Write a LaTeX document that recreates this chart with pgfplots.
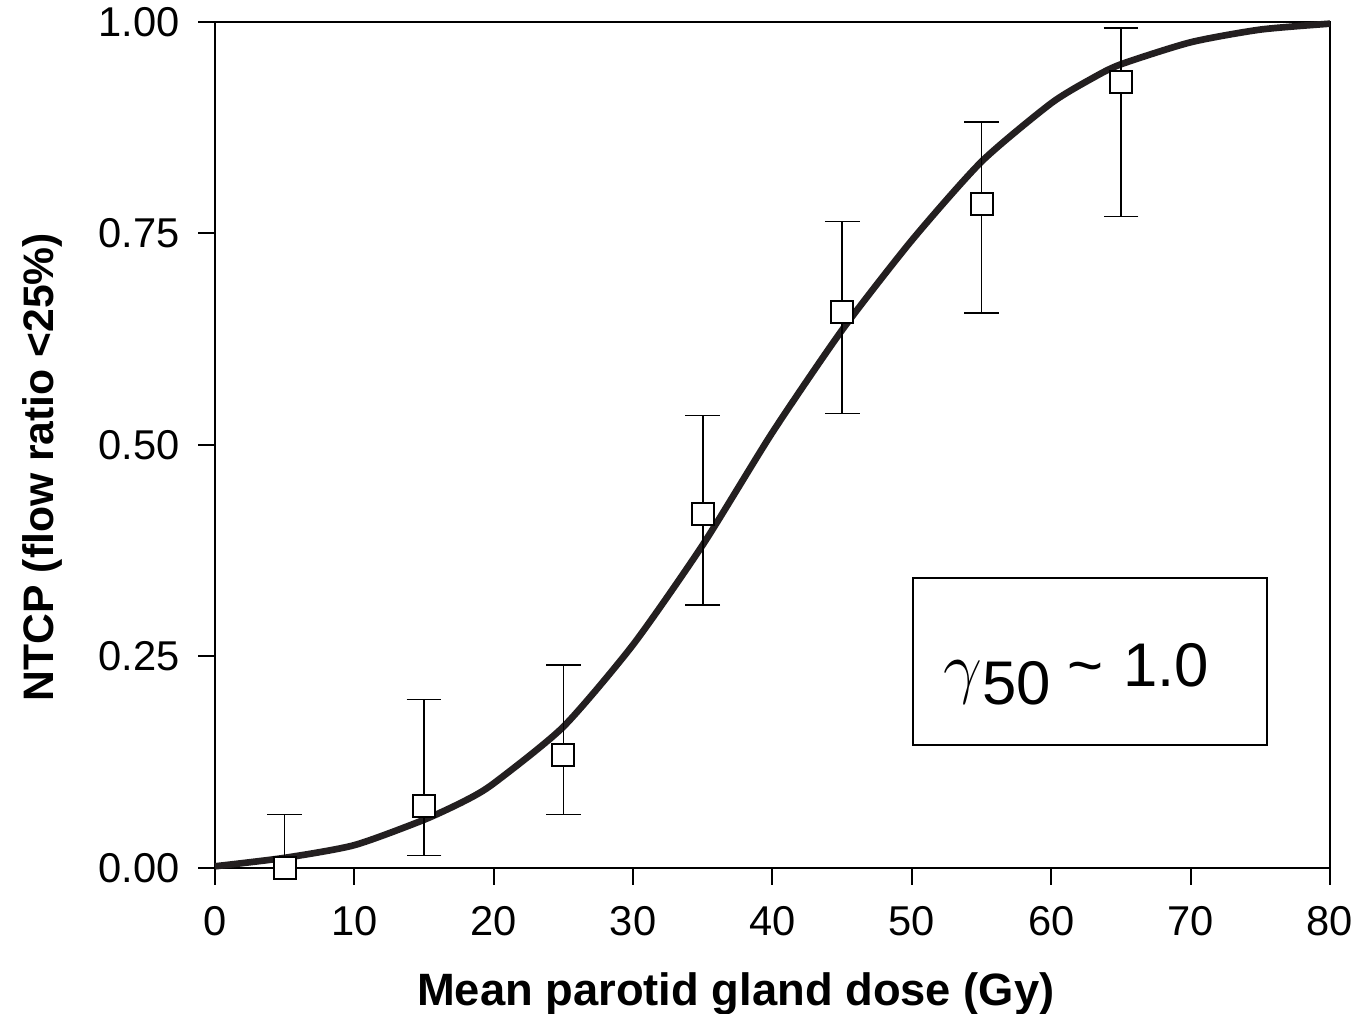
\documentclass[border=0pt]{standalone}
\usepackage{fontspec}
\setmainfont{Liberation Sans}
\usepackage{pgfplots}
\pgfplotsset{compat=1.18}
\usepackage{pgfplotstable}

\definecolor{curve}{HTML}{231F20}

\pgfplotstableread{
x  y     ep    em
5  0.000 0.063 0.000
15 0.073 0.126 0.058
25 0.134 0.106 0.071
35 0.418 0.117 0.107
45 0.657 0.107 0.120
55 0.785 0.097 0.129
65 0.929 0.064 0.159
}\obsdata

\begin{document}
\begin{tikzpicture}
\begin{axis}[
    scale only axis,
    width=334.5pt, height=253.8pt,
    xmin=0, xmax=80,
    ymin=0, ymax=1,
    xtick={0,10,...,80},
    ytick={0,0.25,0.5,0.75,1},
    xtick pos=bottom, ytick pos=left,
    yticklabel style={/pgf/number format/fixed, /pgf/number format/fixed zerofill,
        /pgf/number format/precision=2, xshift=-2pt},
    /pgf/number format/assume math mode=true,
    tick align=outside,
    major tick length=5pt,
    tick style={black, line width=0.6pt},
    axis line style={black, line width=0.6pt},
    ticklabel style={font=\fontsize{12.5}{14}\selectfont},
    xticklabel style={yshift=-3pt},
    xlabel={\textbf{Mean parotid gland dose (Gy)}},
    ylabel={\textbf{NTCP (flow ratio <25\%)}},
    xlabel style={font=\fontsize{13.6}{15}\selectfont, yshift=-4pt, xshift=-11pt},
    ylabel style={font=\fontsize{12.8}{15}\selectfont, yshift=4pt, xshift=-6.6pt},
    clip=false,
]

% fitted NTCP curve
\addplot[curve, line width=2pt, smooth, tension=0.4] coordinates {
    (0,0.002)(5,0.012)(10,0.027)(15,0.057)(18,0.080)(20,0.100)
    (25,0.167)(30,0.264)(35,0.382)(40,0.515)(45,0.636)(50,0.742)
    (55,0.835)(60,0.904)(63,0.934)(65,0.950)(70,0.976)(75,0.991)(80,0.998)
};

% observed rates with error bars
\addplot[
    only marks,
    mark=square*,
    mark size=3.3pt,
    mark options={fill=white, draw=black, line width=0.6pt},
    error bars/.cd,
        y dir=both, y explicit,
        error bar style={black, line width=0.45pt},
        error mark options={rotate=90, mark size=5.2pt, line width=0.45pt},
] table[x=x, y=y, y error plus=ep, y error minus=em] {\obsdata};

% annotation box
\node[draw=black, line width=0.6pt, fill=white, anchor=north west,
      minimum width=106.2pt, minimum height=50.1pt, inner sep=0pt]
    at (axis cs:50,0.344) {};
\node[anchor=base west, inner sep=0pt, font=\fontsize{18.5}{24}\selectfont]
    at (axis cs:52.2,0.214)
    {\raisebox{-1pt}{\fontsize{21}{24}\selectfont$\gamma$}\raisebox{-5.4pt}{50}\hspace{5pt}\textasciitilde\hspace{6pt}1.0};

\coordinate (sw) at (rel axis cs:0,0);
\coordinate (ne) at (rel axis cs:1,1);
\end{axis}
\pgfresetboundingbox
\path ([xshift=-64.5pt, yshift=-43.8pt]sw) rectangle ([xshift=8.1pt, yshift=6.6pt]ne);
\end{tikzpicture}
\end{document}
